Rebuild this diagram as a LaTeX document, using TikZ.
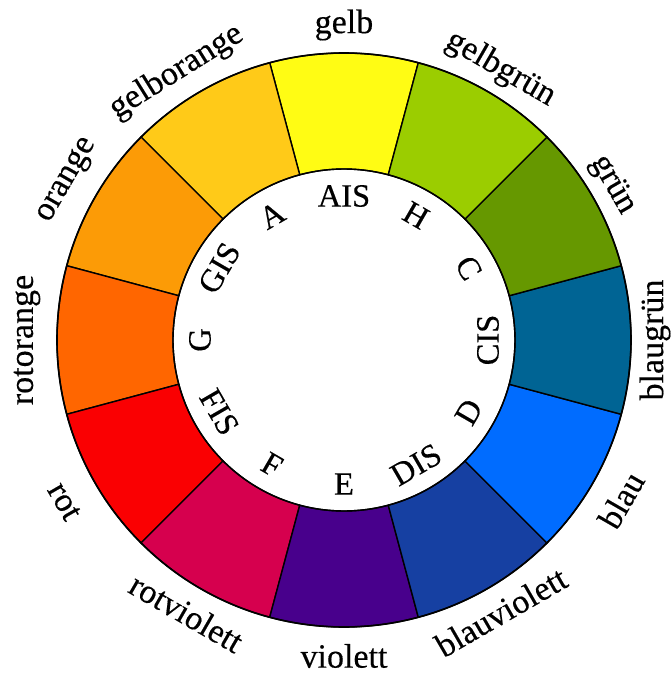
\documentclass[tikz,border=0pt]{standalone}
\usepackage{fontspec}
\setmainfont[FakeBold=0.35]{Liberation Serif}
\definecolor{cGelb}{RGB}{255,252,20}
\definecolor{cGelborange}{RGB}{255,202,24}
\definecolor{cOrange}{RGB}{252,155,6}
\definecolor{cRotorange}{RGB}{255,102,0}
\definecolor{cRot}{RGB}{250,0,2}
\definecolor{cRotviolett}{RGB}{214,0,78}
\definecolor{cViolett}{RGB}{72,0,140}
\definecolor{cBlauviolett}{RGB}{22,64,162}
\definecolor{cBlau}{RGB}{0,108,255}
\definecolor{cBlaugruen}{RGB}{0,100,148}
\definecolor{cGruen}{RGB}{102,152,0}
\definecolor{cGelbgruen}{RGB}{155,205,0}
\tikzset{
  segment/.style={draw=black, line width=1.4pt, line join=round},
  outerlabel/.style={font=\fontsize{34}{40}\selectfont, inner sep=0pt, anchor=center},
  innerlabel/.style={font=\fontsize{32.5}{38}\selectfont, inner sep=0pt, anchor=center}
}
\begin{document}
\begin{tikzpicture}
\useasboundingbox (-344pt,-341pt) rectangle (327pt,340pt);
\fill[white] (-344pt,-341pt) rectangle (327pt,340pt);
% colour segments
\foreach \col [count=\i from 0] in {cGelb,cGelborange,cOrange,cRotorange,cRot,cRotviolett,cViolett,cBlauviolett,cBlau,cBlaugruen,cGruen,cGelbgruen} {
  \pgfmathsetmacro\a{90+30*\i}
  \pgfmathsetmacro\s{\a-15}
  \pgfmathsetmacro\e{\a+15}
  \filldraw[segment, fill=\col] (\s:171pt) arc[start angle=\s, end angle=\e, radius=171pt]
     -- (\e:287pt) arc[start angle=\e, end angle=\s, radius=287pt] -- cycle;
}
\draw[line width=1.6pt] (0,0) circle[radius=287pt];
\draw[line width=1.4pt] (0,0) circle[radius=171pt];
% outer labels
\foreach \txt/\ang/\rad/\nm in {gelb/90/315/o1,gelborange/122/316/o2,orange/150/319/o3,rotorange/180/317/o4,rot/210/323/o5,rotviolett/240/315/o6,violett/270/316/o7,blauviolett/300/314/o8,blau/330/320/o9,blaugrün/360/311/o10,grün/30/310/o11,gelbgrün/60/313/o12} {
  \pgfmathsetmacro\rot{90-mod(90-(\ang-90)+1800,180)}
  \node[outerlabel, rotate=\rot] (\nm) at (\ang:\rad pt) {\txt};
}
% inner labels
\foreach \txt/\ang/\nm in {AIS/90/n1,A/120/n2,GIS/150/n3,G/180/n4,FIS/210/n5,F/240/n6,E/270/n7,DIS/300/n8,D/330/n9,CIS/360/n10,C/30/n11,H/60/n12} {
  \pgfmathsetmacro\rot{90-mod(90-(\ang-90)+1800,180)}
  \node[innerlabel, rotate=\rot] (\nm) at (\ang:144pt) {\txt};
}
\end{tikzpicture}
\end{document}
